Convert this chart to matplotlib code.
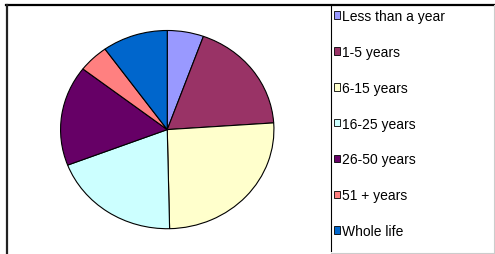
# pie chart of how long people have lived in the area
import matplotlib
matplotlib.use("Agg")
import matplotlib.pyplot as plt
from matplotlib.lines import Line2D

plt.rcParams['font.family'] = ['Liberation Sans', 'DejaVu Sans']

# data (percent)
labels = ["Less than a year", "1-5 years", "6-15 years", "16-25 years",
          "26-50 years", "51 + years", "Whole life"]
values = [5.5, 18.4, 25.7, 19.5, 16.3, 4.6, 9.9]
colors = ["#9999FF", "#993366", "#FFFFCC", "#CCFFFF", "#660066", "#FF8080", "#0066CC"]

W, H = 495, 255
fig = plt.figure(figsize=(W / 100, H / 100), dpi=100)

def fx(px):
    return px / W

def fy(py):
    return 1 - py / H

# pie axes, slightly wider than tall like the original
ax = fig.add_axes([fx(59.5), fy(230.7), (275 - 59.5) / W, (230.7 - 30.5) / H])
wedges, _ = ax.pie(values, colors=colors, startangle=90, counterclock=False,
                   wedgeprops=dict(edgecolor="black", linewidth=0.8))
ax.set_aspect('auto')
ax.set_xlim(-1.01, 1.01)
ax.set_ylim(-1.01, 1.01)

# outer frame and legend box lines
fig.add_artist(Line2D([fx(6), fx(494)], [fy(6), fy(6)], color="black", lw=1.6))
fig.add_artist(Line2D([fx(7), fx(7)], [fy(6), fy(256)], color="#222222", lw=1.6))
fig.add_artist(Line2D([fx(331), fx(331)], [fy(6), fy(252)], color="black", lw=0.8))
fig.add_artist(Line2D([fx(494), fx(494)], [fy(6), fy(254)], color="#cccccc", lw=0.8))
fig.add_artist(Line2D([fx(331), fx(494)], [fy(254), fy(254)], color="#cccccc", lw=0.8))

leg = fig.legend(wedges, labels, loc="upper left", bbox_to_anchor=(fx(330), fy(6)),
                 frameon=False, fontsize=10, handlelength=0.45, handleheight=0.45,
                 handletextpad=0.15, labelspacing=1.57, borderaxespad=0,
                 borderpad=0.3)
for h in leg.legend_handles:
    h.set_edgecolor("black")
    h.set_linewidth(0.6)

fig.savefig("out.png", dpi=100)
